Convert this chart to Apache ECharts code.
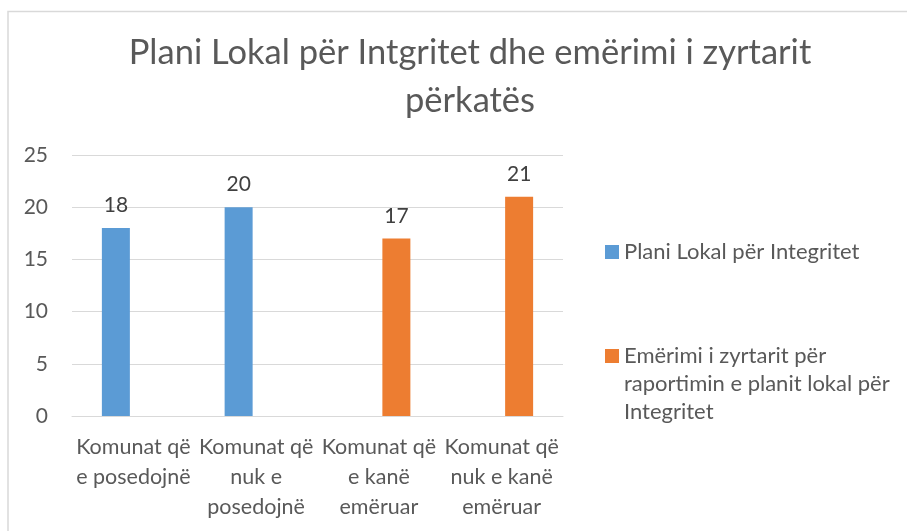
<!DOCTYPE html>
<html>
<head>
<meta charset="utf-8">
<script src="https://cdn.jsdelivr.net/npm/echarts@6/dist/echarts.min.js"></script>
<style>html,body{margin:0;padding:0;background:#fff}#c{width:907px;height:531px}</style>
</head>
<body>
<div id="c"></div>
<script>
const titleText = "Plani Lokal për Intgritet dhe emërimi i zyrtarit\npërkatës";
const categories = ["Komunat që\ne posedojnë", "Komunat që\nnuk e\nposedojnë", "Komunat që\ne kanë\nemëruar", "Komunat që\nnuk e kanë\nemëruar"];
const seriesNames = ["Plani Lokal për Integritet", "Emërimi i zyrtarit për raportimin e planit lokal për Integritet"];
const legendLabels = ["Plani Lokal për Integritet", "Emërimi i zyrtarit për\nraportimin e planit lokal për\nIntegritet"];
const planValues = [18, 20, null, null];
const zyrtarValues = [null, null, 17, 21];
const yTicks = [0, 5, 10, 15, 20, 25];

const FONT = "Lato";
const TXT = "#595959";
const chart = echarts.init(document.getElementById('c'), null, {renderer: 'canvas'});
chart.setOption({
  animation: false,
  backgroundColor: '#fff',
  textStyle: {fontFamily: FONT},
  title: {
    text: titleText,
    left: 465, top: 24, textAlign: 'center',
    textStyle: {fontFamily: FONT, fontSize: 34.5, fontWeight: 'normal', color: TXT, lineHeight: 48}
  },
  graphic: [{
    type: 'rect', silent: true, z: -1,
    shape: {x: 8, y: 11.5, width: 1200, height: 1000},
    style: {fill: 'none', stroke: '#d9d9d9', lineWidth: 1.5}
  }],
  grid: {left: 72, right: 344, top: 155, bottom: 115},
  legend: [{
    data: [seriesNames[0]],
    left: 605, top: 238, orient: 'vertical', padding: 0,
    icon: 'rect', itemWidth: 14, itemHeight: 14,
    itemStyle: {borderWidth: 0},
    formatter: n => legendLabels[seriesNames.indexOf(n)],
    textStyle: {fontFamily: FONT, fontSize: 22, color: TXT, lineHeight: 28}
  }, {
    data: [seriesNames[1]],
    left: 605, top: 342, orient: 'vertical', padding: 0,
    icon: 'path://M0,7h14v14h-14z M0,0h14 M0,84h14', itemWidth: 14, itemHeight: 84,
    itemStyle: {borderWidth: 0},
    formatter: n => legendLabels[seriesNames.indexOf(n)],
    textStyle: {fontFamily: FONT, fontSize: 22, color: TXT, lineHeight: 28}
  }],
  xAxis: {
    type: 'category', data: categories,
    axisTick: {show: false},
    axisLine: {lineStyle: {color: '#d9d9d9', width: 1}},
    axisLabel: {interval: 0, margin: 16, fontFamily: FONT, fontSize: 21.5, color: TXT, lineHeight: 30, align: 'center'}
  },
  yAxis: {
    type: 'value', min: yTicks[0], max: yTicks[yTicks.length - 1], interval: 5,
    axisLine: {show: false}, axisTick: {show: false},
    splitLine: {lineStyle: {color: '#d9d9d9', width: 1}},
    axisLabel: {margin: 24, fontFamily: FONT, fontSize: 21, color: TXT}
  },
  series: [{
    name: seriesNames[0], type: 'bar', data: planValues,
    barWidth: 28, barGap: '25%',
    itemStyle: {color: '#5b9bd5'},
    label: {show: true, position: 'top', distance: 12, fontFamily: FONT, fontSize: 21, color: '#404040'}
  }, {
    name: seriesNames[1], type: 'bar', data: zyrtarValues,
    barWidth: 28, barGap: '25%',
    itemStyle: {color: '#ed7d31'},
    label: {show: true, position: 'top', distance: 12, fontFamily: FONT, fontSize: 21, color: '#404040'}
  }]
});
</script>
</body>
</html>
